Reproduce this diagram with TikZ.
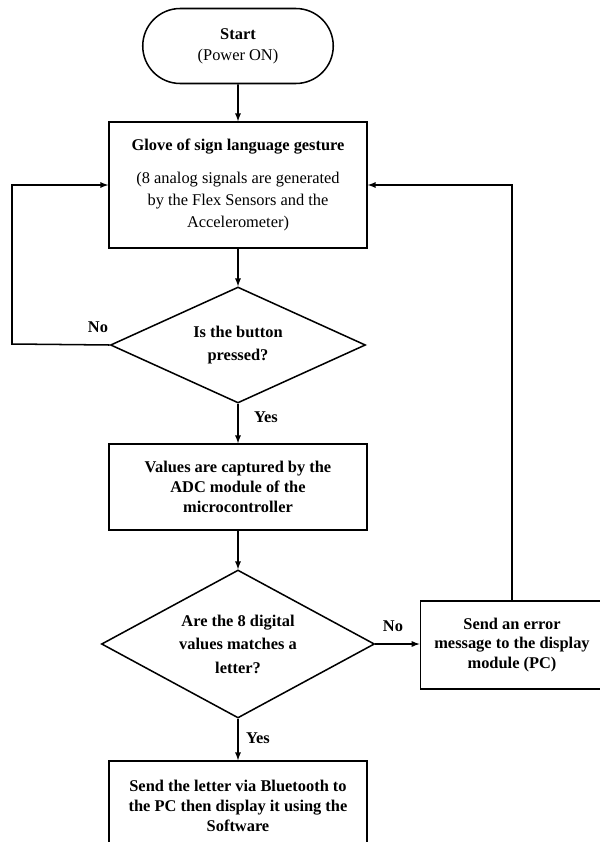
\documentclass[tikz,border=0pt]{standalone}
\usepackage{fontspec}
\setmainfont{Liberation Serif}
\usetikzlibrary{shapes.geometric,shapes.misc}

\begin{document}
\begin{tikzpicture}[-latex, x=0.03cm, y=-0.03cm, line width=1.3pt,
font=\fontsize{14}{18}\selectfont,
terminal/.style={rounded rectangle, draw, minimum width=5.95cm, minimum height=2.25cm, align=center},
process/.style={rectangle, draw, minimum width=7.74cm, align=center, font=\bfseries\fontsize{14}{17}\selectfont},
decision/.style={diamond, draw, aspect=2, align=center, inner sep=0pt, font=\bfseries\fontsize{14}{20}\selectfont},
answer/.style={font=\bfseries\fontsize{14}{15}\selectfont}]
  \useasboundingbox (0,0) rectangle (600,842);
  \clip (0,0) rectangle (600,842);
  % start
  \node[terminal] (start) at (238,46) {\textbf{Start}\\(Power ON)};
  % glove input
  \node[process, minimum height=3.78cm, font=\fontsize{14}{18.7}\selectfont] (glove) at (238,185)
    {\textbf{Glove of sign language gesture}\\[9pt](8 analog signals are generated\\by the Flex Sensors and the\\Accelerometer)};
  % button check
  \node[decision, minimum width=7.65cm, minimum height=3.48cm] (btn) at (238,345) {Is the button\\pressed?};
  % capture
  \node[process, minimum height=2.58cm] (adc) at (238,487) {Values are captured by the\\ADC module of the\\microcontroller};
  % letter check
  \node[decision, minimum width=8.19cm, minimum height=4.44cm] (match) at (238,644) {Are the 8 digital\\values matches a\\letter?};
  % outputs
  \node[process, minimum width=5.5cm, minimum height=2.64cm] (err) at (512,645) {Send an error\\message to the display\\module (PC)};
  \node[process, minimum height=2.7cm] (out) at (238,806) {Send the letter via Bluetooth to\\the PC then display it using the\\Software};
  % answers
  \node[answer] (no1) at (98,327) {No};
  \node[answer] (yes1) at (266,417) {Yes};
  \node[answer] (no2) at (393,626) {No};
  \node[answer] (yes2) at (258,738) {Yes};

\foreach \from/\to in {start/glove,glove/btn,btn/adc,adc/match,match/out}
    \draw (\from) -- (\to);
  \draw (match.east) -- (err.west |- match.east);
  \coordinate (back) at (12,344);
  \draw (btn.west) -- (back) |- (glove.west);
  \draw (err.north) |- (glove.east);
\end{tikzpicture}
\end{document}
